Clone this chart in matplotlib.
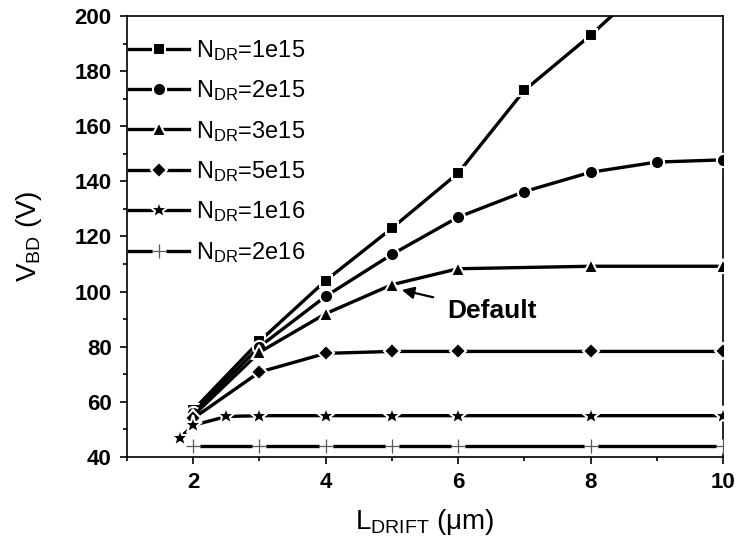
import matplotlib
matplotlib.use('Agg')
import matplotlib.pyplot as plt
from matplotlib.ticker import MultipleLocator
from matplotlib.legend_handler import HandlerTuple

plt.rcParams['font.family'] = ['Liberation Sans', 'DejaVu Sans']
plt.rcParams['mathtext.fontset'] = 'custom'
plt.rcParams['mathtext.rm'] = 'Liberation Sans'
plt.rcParams['mathtext.it'] = 'Liberation Sans:italic'
plt.rcParams['mathtext.bf'] = 'Liberation Sans:bold'

# Breakdown voltage vs drift length for several drift dopings
x_1e15 = [2, 3, 4, 5, 6, 7, 8, 9]
v_1e15 = [57, 82, 104, 123, 143, 173, 193, 215]

x_2e15 = [2, 3, 4, 5, 6, 7, 8, 9, 10]
v_2e15 = [56, 80, 98.3, 113.5, 127, 136.3, 143.3, 147, 147.8]

x_3e15 = [2, 3, 4, 5, 6, 8, 10]
v_3e15 = [55, 78, 92, 102.5, 108.3, 109.2, 109.2]

x_5e15 = [2, 3, 4, 5, 6, 8, 10]
v_5e15 = [54, 70.8, 77.6, 78.3, 78.3, 78.3, 78.3]

x_1e16 = [1.8, 2, 2.5, 3, 4, 5, 6, 8, 10]
v_1e16 = [47, 51.5, 54.7, 55, 55, 55, 55, 55, 55]

x_2e16 = [2, 3, 4, 5, 6, 8, 10]
v_2e16 = [44, 44, 44, 44, 44, 44, 44]

labels = [r'N$_{\mathrm{DR}}$=1e15', r'N$_{\mathrm{DR}}$=2e15', r'N$_{\mathrm{DR}}$=3e15',
          r'N$_{\mathrm{DR}}$=5e15', r'N$_{\mathrm{DR}}$=1e16', r'N$_{\mathrm{DR}}$=2e16']

fig = plt.figure(figsize=(7.37, 5.51), dpi=100)
ax = fig.add_axes([0.1723, 0.1706, 0.8087, 0.8004])

lw = 2.4
handles = []
series = [(x_1e15, v_1e15, 's', 8.5), (x_2e15, v_2e15, 'o', 9.5), (x_3e15, v_3e15, '^', 10),
          (x_5e15, v_5e15, 'D', 8.5), (x_1e16, v_1e16, '*', 14)]
for xs, vs, mk, ms in series:
    h, = ax.plot(xs, vs, color='black', lw=lw, marker=mk, markersize=ms,
                 markerfacecolor='black', markeredgecolor='white', markeredgewidth=1.5,
                 zorder=3)
    handles.append(h)

# last series: thin '+' markers with a white gap around them
l6, = ax.plot(x_2e16, v_2e16, color='black', lw=lw, marker='o', markersize=9,
              markerfacecolor='white', markeredgecolor='white', zorder=3)
p6, = ax.plot(x_2e16, v_2e16, ls='none', marker='+', markersize=10,
              markeredgecolor='0.35', markeredgewidth=0.9, zorder=4)
handles.append((l6, p6))

ax.set_xlim(1, 10)
ax.set_ylim(40, 200)
ax.xaxis.set_major_locator(MultipleLocator(2))
ax.xaxis.set_minor_locator(MultipleLocator(1))
ax.yaxis.set_major_locator(MultipleLocator(20))
ax.yaxis.set_minor_locator(MultipleLocator(10))
ax.tick_params(which='both', direction='out', width=1.2, top=False, right=False)
ax.tick_params(which='major', length=5, labelsize=16, pad=6)
ax.tick_params(which='minor', length=3)
for t in ax.get_xticklabels() + ax.get_yticklabels():
    t.set_fontweight('bold')
for s in ax.spines.values():
    s.set_linewidth(1.2)

ax.set_xlabel(r'L$_{\mathrm{DRIFT}}$ (μm)', fontsize=20, labelpad=10)
ax.set_ylabel(r'V$_{\mathrm{BD}}$ (V)', fontsize=20, labelpad=22)

ax.annotate('Default', xy=(5.15, 100.6), xytext=(5.83, 93), fontsize=19,
            fontweight='bold', va='center', ha='left',
            arrowprops=dict(arrowstyle='-|>', color='black', lw=1.6,
                            mutation_scale=18, shrinkA=8, shrinkB=0))

leg = ax.legend(handles, labels, loc='upper left', frameon=False, fontsize=17,
                handlelength=2.55, handletextpad=0.3, labelspacing=0.655,
                borderaxespad=0.0, borderpad=0.0, bbox_to_anchor=(0.003, 0.95),
                handler_map={tuple: HandlerTuple(ndivide=1)})

fig.savefig('out.png', dpi=100)
